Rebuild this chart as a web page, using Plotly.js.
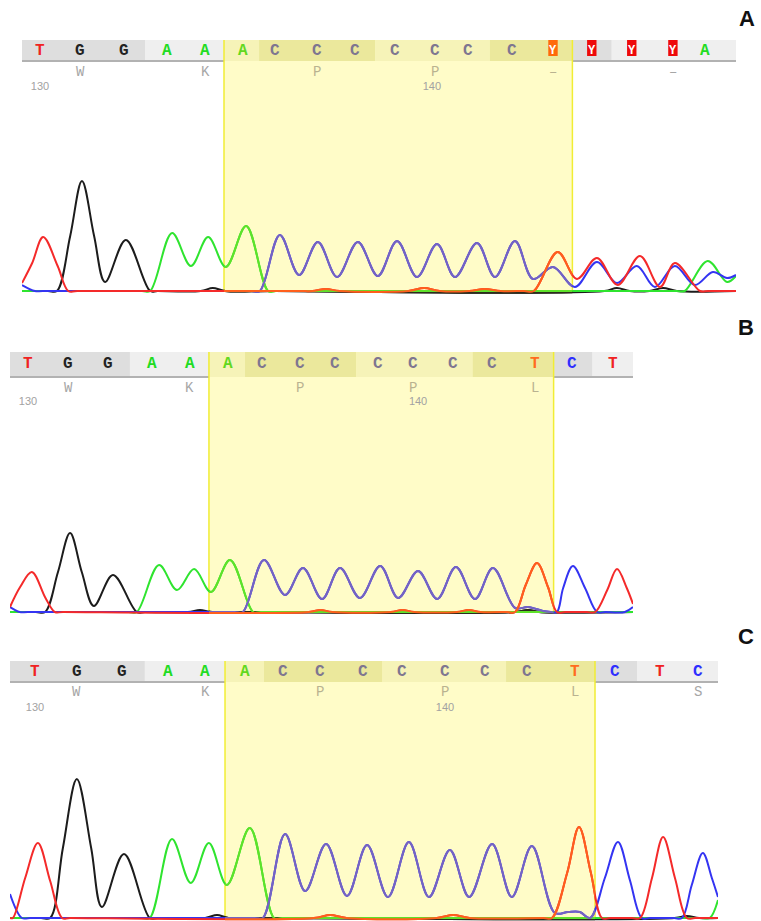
<!DOCTYPE html>
<html><head><meta charset="utf-8">
<script src="https://cdn.plot.ly/plotly-3.0.1.min.js"></script>
<style>html,body{margin:0;padding:0;background:#fff}</style>
</head><body><div id="chart" style="width:761px;height:921px"></div>
<script>
// ================= DATA =================
// sequence position ticks
const POS_TICKS = [130, 140];
// highlighted base range (sequence positions)
const HL_FIRST = 135, HL_LAST = 143;

// ---- Panel A ----
const A_bases = ['T','G','G','A','A','A','C','C','C','C','C','C','C','Y','Y','Y','Y','A'];
const A_pos   = [130.0,131.02,132.14,133.24,134.21,135.18,136.0,137.07,138.04,139.06,140.08,140.92,142.04,143.09,144.08,145.1,146.15,146.96];
const A_aa    = ['W','K','P','P','–','–'];
const A_T_x = [129.54,129.8,130.08,130.45,130.72,130.95,136.6,136.95,137.3,137.65,139.4,139.8,140.2,140.95,141.35,141.75,142.35,142.6,143.21,143.7,144.21,144.74,145.31,145.82,146.2,146.84,147.05,147.76];
const A_T_y = [8,28,54,25,0,0,0,0,2,0,0,3,0,0,2,0,0,0,39,12,33,6,35,4,28,0,0,0];
const A_G_x = [129.54,130.2,130.43,130.77,131.07,131.38,131.66,132.19,132.81,133.0,134.1,134.41,134.72,136.0,144.4,144.72,145.05,145.55,145.9,146.25,147.76];
const A_G_y = [0,0,0,55,110,55,9,51,0,0,0,3,0,0,0,3,0,0,3,0,0];
const A_A_x = [129.54,132.6,132.81,133.37,133.85,134.29,134.74,135.26,135.82,136.02,146.25,146.45,147.04,147.53,147.76];
const A_A_y = [0,0,0,58,25,54,24,65,0,0,0,0,30,9,15];
const A_C_x = [129.54,129.87,130.07,135.4,135.61,136.12,136.61,137.09,137.58,138.11,138.62,139.11,139.62,140.13,140.59,141.15,141.61,142.12,142.58,143.09,143.65,144.21,144.72,145.23,145.69,146.2,146.71,147.17,147.53,147.76];
const A_C_y = [6,0,0,0,0,56,16,49,14,49,15,50,14,47,14,48,14,50,12,24,4,29,8,25,4,25,6,19,13,16];

// ---- Panel B ----
const B_bases = ['T','G','G','A','A','A','C','C','C','C','C','C','C','T','C','T'];
const B_pos   = [130.0,131.03,132.05,133.18,134.15,135.13,136.0,136.97,137.87,138.97,139.87,140.9,141.9,143.0,143.95,145.0];
const B_aa    = ['W','K','P','P','L'];
const B_T_x = [129.54,129.8,130.10,130.45,130.69,130.9,137.2,137.5,137.8,139.3,139.6,139.9,141.0,141.3,141.6,142.28,142.49,142.76,143.05,143.33,143.56,143.77,144.33,144.54,144.85,145.10,145.35,145.51];
const B_T_y = [5,25,40,14,0,0,0,2,0,0,2,0,0,2,0,0,0,27,49,25,0,0,0,0,22,43,24,8];
const B_G_x = [129.54,130.2,130.44,130.77,131.08,131.38,131.69,132.18,132.79,133.0,134.1,134.41,134.72,136.0,142.5,142.82,143.1,145.51];
const B_G_y = [0,0,0,40,79,40,6,37,0,0,0,2,0,0,0,2,0,0];
const B_A_x = [129.54,132.58,132.79,133.36,133.82,134.26,134.69,135.18,135.77,135.97,145.51];
const B_A_y = [0,0,0,47,22,43,20,52,0,0,0];
const B_C_x = [129.54,129.79,130.0,135.3,135.51,136.05,136.59,137.05,137.54,138.0,138.51,139.03,139.49,140.0,140.49,140.97,141.46,141.92,142.49,142.82,143.2,143.4,143.56,143.72,143.97,144.28,144.59,144.8,145.3,145.51];
const B_C_y = [5,0,0,0,0,52,17,44,13,44,14,46,14,41,13,45,13,44,4,5,1,0,0,24,46,24,0,0,0,5];

// ---- Panel C ----
const C_bases = ['T','G','G','A','A','A','C','C','C','C','C','C','C','T','C','T','C'];
const C_pos   = [130.0,131.02,132.12,133.24,134.15,135.12,136.05,136.95,138.0,138.95,140.0,140.98,142.0,143.17,144.15,145.24,146.17];
const C_aa    = ['W','K','P','P','L','S'];
const C_T_x = [129.39,129.46,129.76,130.07,130.37,130.66,130.86,136.8,137.2,137.6,139.8,140.2,140.6,142.4,142.61,142.98,143.27,143.56,143.83,144.03,144.56,144.76,145.05,145.32,145.61,145.90,146.1,146.66];
const C_T_y = [0,0,40,75,37,0,0,0,3,0,0,3,0,0,0,45,91,45,0,0,0,0,40,81,40,0,0,0];
const C_G_x = [129.39,130.15,130.37,130.68,131.02,131.37,131.63,132.17,132.8,133.0,134.15,134.44,134.72,136.0,145.6,145.9,146.2,146.66];
const C_G_y = [0,0,0,70,139,70,11,64,0,0,0,3,0,0,0,2,0,0];
const C_A_x = [129.39,132.6,132.8,133.34,133.80,134.24,134.68,135.24,135.83,136.03,146.26,146.46,146.66];
const C_A_y = [0,0,0,79,35,75,33,90,0,0,0,0,18];
const C_C_x = [129.39,129.68,129.88,135.36,135.56,136.10,136.59,137.10,137.61,138.10,138.61,139.12,139.61,140.12,140.59,141.15,141.63,142.12,142.68,143.0,143.29,143.54,143.9,144.22,144.51,144.80,145.0,145.58,145.78,146.02,146.29,146.51,146.66];
const C_C_y = [24,0,0,0,0,84,27,74,22,73,21,76,21,68,21,74,21,72,5,6,6,0,40,76,38,0,0,0,0,33,65,40,21];

// ================= STYLE / LAYOUT =================
const W = 761, H = 921;
const fx = px => px / W, fy = py => 1 - py / H;

const traceCol  = {T:['#f42a2a','#ff5f1c'], G:['#1c1c1c','#2c2c1c'], A:['#2fe42f','#5ee22a'], C:['#3434f2','#7563c2']};
const letterCol = {T:['#f02222','#ff6c1e'], G:['#222222','#303024'], A:['#22dc22','#62d820'], C:['#2e2eff','#7e7690'], Y:['#ffffff','#ffffff']};
const aaCol = ['#a6a6a6','#b9b290'];

const panels = [
  {id:'A', bases:A_bases, pos:A_pos, aa:A_aa, ch:{G:[A_G_x,A_G_y],A:[A_A_x,A_A_y],C:[A_C_x,A_C_y],T:[A_T_x,A_T_y]},
   range:[129.54,147.76], left:22, right:736, barTop:40, barBot:61, aaY:72, top:93, base:291, lab:[747,18]},
  {id:'B', bases:B_bases, pos:B_pos, aa:B_aa, ch:{G:[B_G_x,B_G_y],A:[B_A_x,B_A_y],C:[B_C_x,B_C_y],T:[B_T_x,B_T_y]},
   range:[129.54,145.51], left:10, right:633, barTop:352, barBot:377, aaY:388, top:408, base:612, lab:[746,328]},
  {id:'C', bases:C_bases, pos:C_pos, aa:C_aa, ch:{G:[C_G_x,C_G_y],A:[C_A_x,C_A_y],C:[C_C_x,C_C_y],T:[C_T_x,C_T_y]},
   range:[129.39,146.66], left:10, right:718, barTop:661, barBot:682, aaY:692, top:714, base:918, lab:[746,636]}
];

const traces = [], shapes = [], annotations = [];
const layout = {width:W, height:H, margin:{l:0,r:0,t:0,b:0}, paper_bgcolor:'#ffffff', plot_bgcolor:'rgba(0,0,0,0)', showlegend:false};

panels.forEach((p, k) => {
  const mi = k + 1, hi = k + 4;
  const mx = mi === 1 ? 'x' : 'x' + mi, my = mi === 1 ? 'y' : 'y' + mi;
  const hx = 'x' + hi, hy = 'y' + hi;
  const [r0, r1] = p.range;
  const n = p.bases.length;
  const edges = [r0];
  for (let i = 1; i < n; i++) edges.push((p.pos[i-1] + p.pos[i]) / 2);
  edges.push(r1);
  const iFirst = HL_FIRST - 130, iLast = HL_LAST - 130;
  const hs = edges[iFirst], he = edges[iLast + 1];
  const inHL = i => i >= iFirst && i <= iLast;
  const d0 = fx(p.left), d1 = fx(p.right);
  const toDom = v => d0 + (v - r0) / (r1 - r0) * (d1 - d0);
  const yDom = [fy(p.base + 3), fy(p.top)];
  const yRange = [-3, p.base - p.top];

  layout['xaxis' + (mi === 1 ? '' : mi)] = {domain:[d0,d1], range:p.range, anchor:my, side:'top',
    tickvals:POS_TICKS, ticks:'', showgrid:false, zeroline:false, showline:false, fixedrange:true,
    tickfont:{family:'Liberation Sans, Arial, sans-serif', size:11, color:'#a2a2a2'}};
  layout['yaxis' + (mi === 1 ? '' : mi)] = {domain:yDom, range:yRange, anchor:mx, visible:false, fixedrange:true};
  layout['xaxis' + hi] = {domain:[toDom(hs), toDom(he)], range:[hs,he], anchor:hy, visible:false, fixedrange:true};
  layout['yaxis' + hi] = {domain:yDom, range:yRange, anchor:hx, visible:false, fixedrange:true};

  ['G','A','C','T'].forEach(c => {
    const [xs, ys] = p.ch[c];
    traces.push({type:'scatter', mode:'lines', x:xs, y:ys, xaxis:mx, yaxis:my,
      line:{color:traceCol[c][0], width:2, shape:'spline', smoothing:1}, hoverinfo:'skip'});
    traces.push({type:'scatter', mode:'lines', x:xs, y:ys, xaxis:hx, yaxis:hy,
      line:{color:traceCol[c][1], width:2, shape:'spline', smoothing:1}, hoverinfo:'skip'});
  });

  // highlight region (below traces)
  shapes.push({type:'rect', layer:'below', xref:mx, yref:'paper', x0:hs, x1:he, y0:fy(p.base+1), y1:fy(p.barTop),
    fillcolor:'#fffcc8', line:{width:0}});
  // sequence bar cells, grouped by codon shading
  const cellColor = i => {
    const dark = Math.floor(i / 3) % 2 === 0;
    return inHL(i) ? (dark ? '#ebe89c' : '#f6f3b8') : (dark ? '#dedede' : '#efefef');
  };
  let start = 0;
  for (let i = 1; i <= n; i++) {
    if (i === n || cellColor(i) !== cellColor(start)) {
      shapes.push({type:'rect', layer:'below', xref:mx, yref:'paper', x0:edges[start], x1:edges[i],
        y0:fy(p.barBot), y1:fy(p.barTop), fillcolor:cellColor(start), line:{width:0}});
      start = i;
    }
  }
  // bar bottom rule outside highlight
  [[r0, hs], [he, r1]].forEach(([a, b]) => shapes.push({type:'line', layer:'below', xref:mx, yref:'paper',
    x0:a, x1:b, y0:fy(p.barBot), y1:fy(p.barBot), line:{color:'#b2b2b2', width:2}}));
  // highlight borders
  [hs, he].forEach(v => shapes.push({type:'line', layer:'below', xref:mx, yref:'paper', x0:v, x1:v,
    y0:fy(p.base+1), y1:fy(p.barTop), line:{color:'#f1ed34', width:1.5}}));

  // base letters
  const barMid = (p.barTop + p.barBot) / 2;
  p.bases.forEach((b, i) => {
    const hl = inHL(i) ? 1 : 0;
    if (b === 'Y') {
      shapes.push({type:'rect', layer:'below', xref:mx, yref:'paper', x0:p.pos[i]-0.12, x1:p.pos[i]+0.12,
        y0:fy(p.barBot-5), y1:fy(p.barTop), fillcolor: hl ? '#ff6a0a' : '#ee0a0a', line:{width:0}});
    }
    annotations.push({xref:mx, yref:'paper', x:p.pos[i], y:fy(barMid), text:b, showarrow:false,
      xanchor:'center', yanchor:'middle',
      font:{family:'Liberation Mono, DejaVu Sans Mono, monospace', size: b === 'Y' ? 12 : 16, weight:'bold', color:letterCol[b][hl]}});
  });
  // amino acids at codon middle base
  p.aa.forEach((a, c) => {
    const i = 3 * c + 1;
    annotations.push({xref:mx, yref:'paper', x:p.pos[i], y:fy(p.aaY), text:a, showarrow:false,
      xanchor:'center', yanchor:'middle',
      font:{family:'Liberation Mono, DejaVu Sans Mono, monospace', size:14, color:aaCol[inHL(i) ? 1 : 0]}});
  });
  // panel label
  annotations.push({xref:'paper', yref:'paper', x:fx(p.lab[0]), y:fy(p.lab[1]), text:'<b>' + p.id + '</b>',
    showarrow:false, xanchor:'center', yanchor:'middle',
    font:{family:'Liberation Sans, Arial, sans-serif', size:22, color:'#111111'}});
});

layout.shapes = shapes;
layout.annotations = annotations;
Plotly.newPlot('chart', traces, layout, {staticPlot:true, displayModeBar:false});
</script>
</body></html>
